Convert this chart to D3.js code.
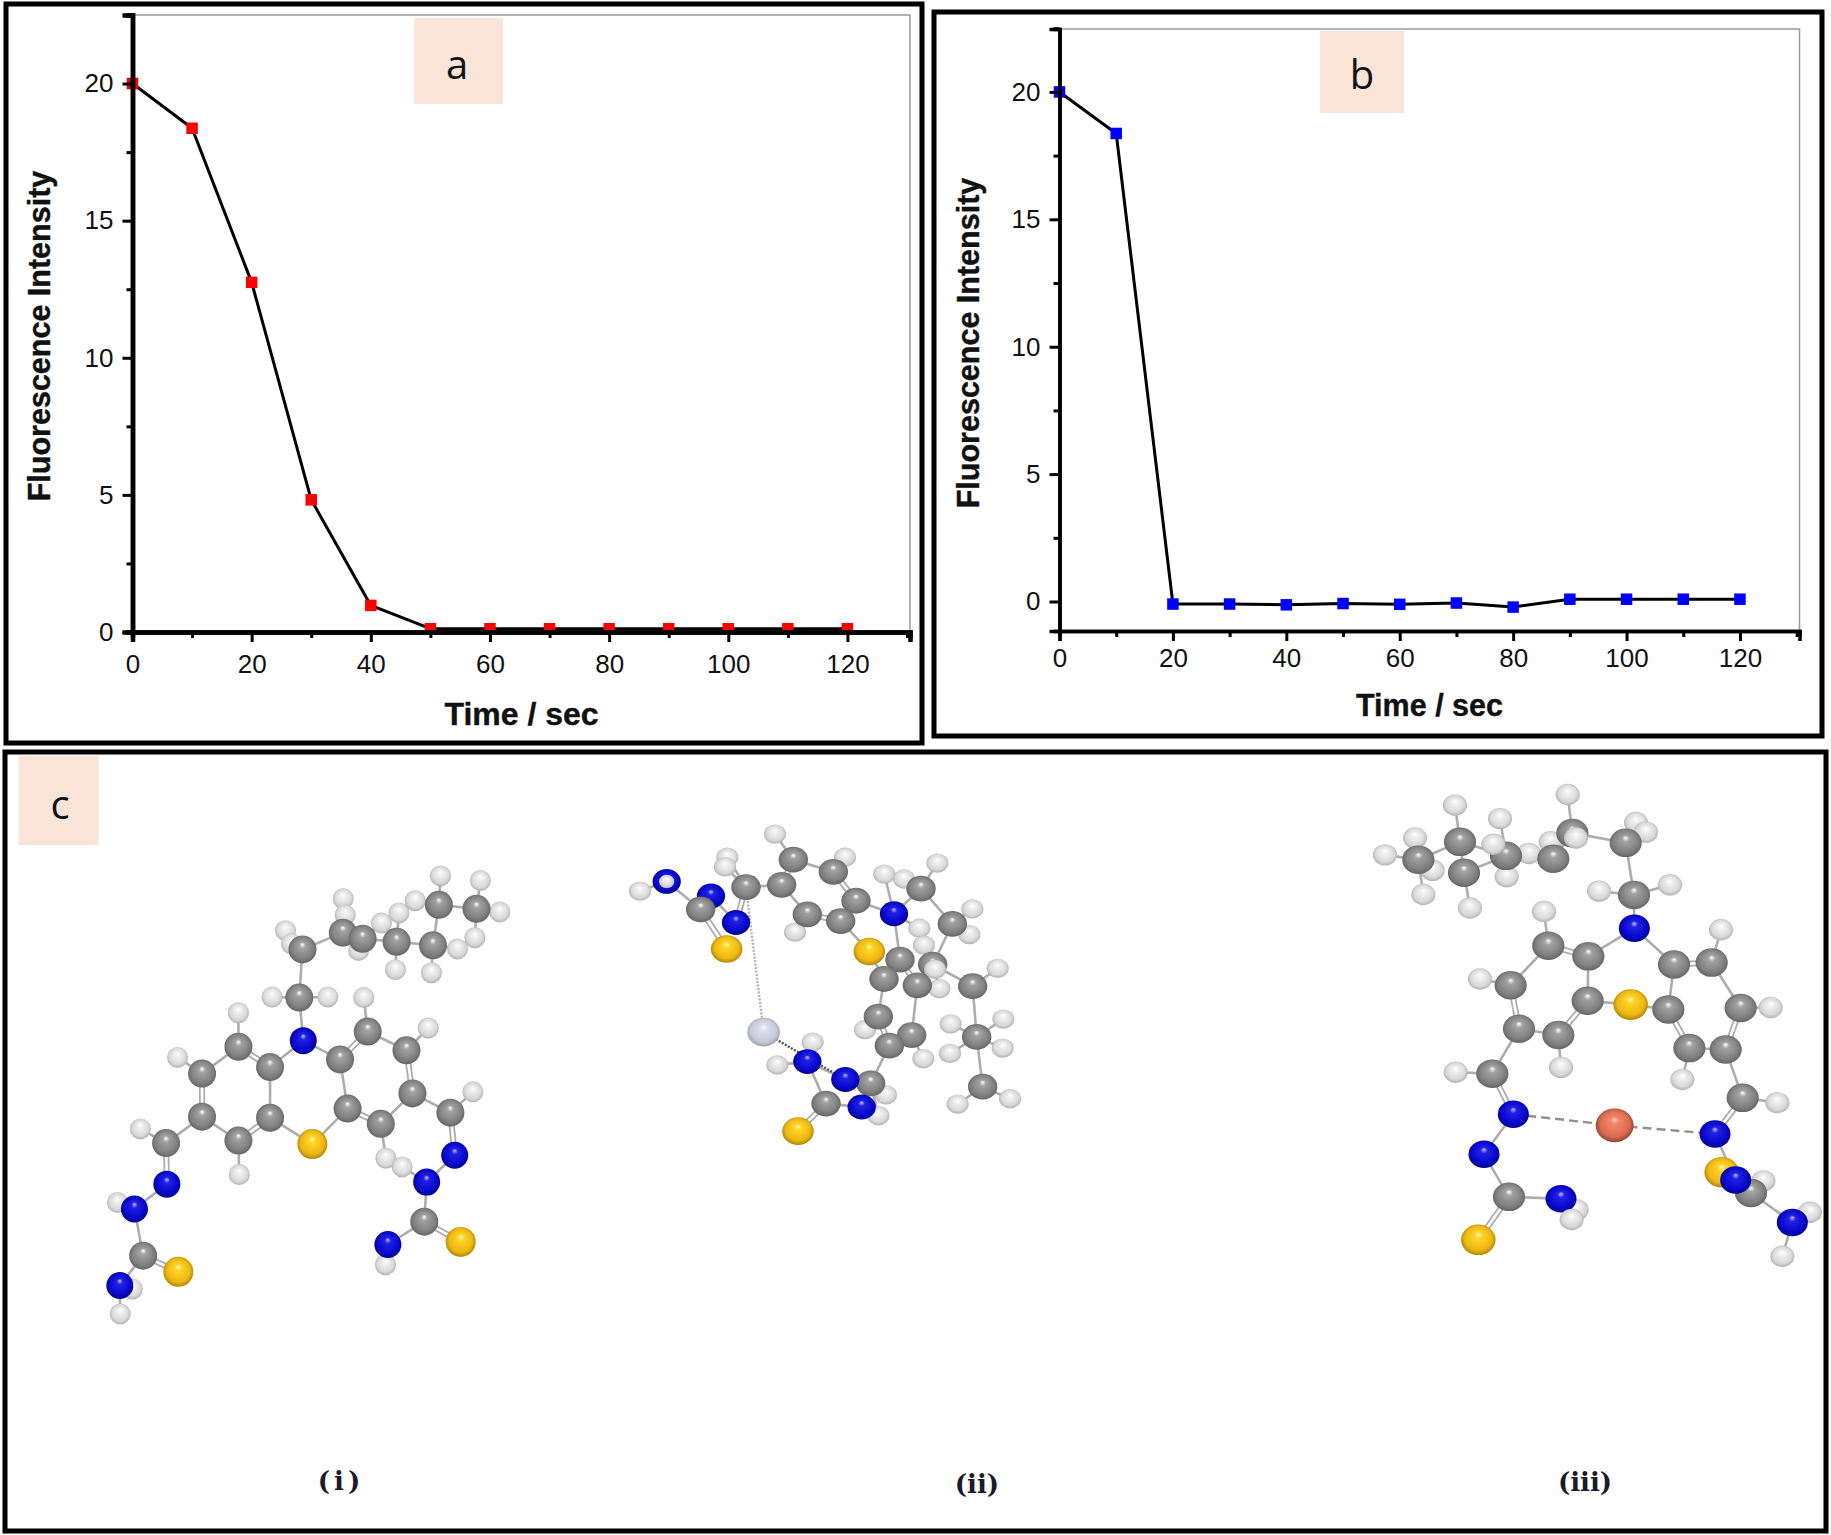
<!DOCTYPE html>
<html><head><meta charset="utf-8"><title>Fluorescence quenching</title>
<script src="https://cdn.jsdelivr.net/npm/d3@7/dist/d3.min.js"></script>
<style>html,body{margin:0;padding:0;background:#fff}svg{display:block}</style></head>
<body><svg id="fig" width="1831" height="1535"></svg>
<script>
// ---- chart data ----
const timeValues = [0,10,20,30,40,50,60,70,80,90,100,110,120];
const intensityA = [20,18.37,12.75,4.82,0.97,0.12,0.12,0.12,0.12,0.12,0.12,0.12,0.12];
const intensityB = [20,18.37,-0.1,-0.1,-0.13,-0.08,-0.11,-0.06,-0.22,0.09,0.09,0.09,0.09];
const xTicks = [0,20,40,60,80,100,120];
const xMinorTicks = [10,30,50,70,90,110,130];
const yTicks = [0,5,10,15,20];
const yMinorTicks = [2.5,7.5,12.5,17.5,22.5];
const xTitle = "Time / sec";
const yTitle = "Fluorescence Intensity";

// ---- molecule models (model units; id prefix gives the element) ----
const atomsI = [
["h1",722,376],["h2",737,402],["h3",868,313],["h4",873,345],["h5",965,361],["h6",907,415],["h7",1009,341],["h8",1050,317],["h9",1000,453],["h10",1091,459],["h11",1157,412],["h12",1114,268],["h13",1215,277],["h14",1201,390],["h15",1264,339],
["c1",765,413],["c2",867,380],["c3",917,392],["c4",1003,398],["c5",1095,405],["c6",1110,325],["c7",1205,333],
["h16",688,507],["h17",829,507],["c8",757,508],["n1",767,593],
["h18",603,538],["h19",449,626],["h20",605,857],["h21",920,508],["h22",1083,568],["h23",1196,694],["h24",976,825],["h25",1017,842],
["c9",683,645],["c10",603,605],["c11",511,658],["c12",511,743],["c13",603,790],["c14",683,745],["s1",790,797],
["c15",860,630],["c16",930,575],["c17",1028,612],["c18",1043,697],["c19",963,757],["c20",879,727],
["c21",1139,735],["n2",1150,819],["n3",1079,872],["c22",1073,950],["s2",1165,990],["h26",975,1035],["n4",981,995],
["h27",355,767],["c23",420,795],["n5",422,876],["h28",297,912],["n6",340,925],["c24",362,1017],["s3",451,1049],["h29",335,1083],["h30",304,1132],["n7",303,1076]
];
const bondsI = "c1-c2 c2-c3 c3-c4 c4-c5 c5-c6 c6-c7 c1-c8 c8-n1 n1-c9 c9=c10 c10-c11 c11=c12 c12-c13 c13=c14 c14-c9 c14-s1 s1-c20 n1-c15 c15=c16 c16-c17 c17=c18 c18-c19 c19=c20 c20-c15 c18-c21 c21=n2 n2-n3 n3-c22 c22=s2 c22-n4 c12-c23 c23=n5 n5-n6 n6-c24 c24=s3 c24-n7 c1-h1 c1-h2 c2-h3 c2-h4 c3-h5 c3-h6 c4-h7 c4-h9 c5-h10 c5-h11 c6-h8 c6-h12 c7-h13 c7-h14 c7-h15 c8-h16 c8-h17 c10-h18 c11-h19 c13-h20 c16-h21 c17-h22 c21-h23 c19-h24 n3-h25 n4-h26 c23-h27 n6-h28 n7-h29 n7-h30";
const linksI = [];

const atomsII = [
["h1",120,230],["n1",200,210],["h2",200,210],["h3",382,160],["h4",375,180],["n2",333,240],["c1",302,268],["s1",380,350],["n3",408,295],["c2",438,222],
["h5",525,112],["c3",545,217],["c4",580,165],["h6",735,160],["c5",700,190],["c6",768,250],["h7",585,315],["c8",622,278],["c7",722,292],
["h14",853,195],["h15",912,205],["h16",1012,172],["c17",963,225],["h17",1117,267],["h18",1108,320],["c18",1057,298],["h22",958,307],["n4",882,277],
["h19",972,342],["h21",1018,432],["h23",1193,390],["c20",1118,427],["h24",1052,505],["h25",1050,566],["h26",1210,495],["h27",1208,555],["c21",1130,532],["h28",1073,671],["h29",1230,660],["c22",1148,635],
["c19",998,382],["h20",1005,392],["c9",900,372],["c11",952,425],["s2",808,355],["c10",852,412],["h8",795,517],["c12",835,490],["h9",970,577],["c14",935,528],["c13",868,550],
["z1",491,522],["h10",638,543],["h11",532,590],["n6",622,583],["h12",858,652],["h13",835,695],["c15",812,628],["n5",736,620],["c16",678,670],["n7",785,677],["s3",594,727]
];
const bondsII = "h1-n1 n1-c1 c1-n2 c1=s1 n2-n3 n3=c2 c2-h4 c2-h3 c2-c3 c3=c4 c4-h5 c4-c5 c5-h6 c5=c6 c6-c7 c7=c8 c8-c3 c8-h7 c6-n4 c7-s2 n4-c9 s2-c10 c9-c10 c9=c11 c10-c12 c12-h8 c12=c13 c13-c14 c14-c11 c14-h9 c13-c15 c15=n5 n5-n6 n6-h10 n6-h11 n6-c16 c16=s3 c16-n7 n7-c15 c15-h12 c15-h13 n4-c17 n4-h14 c17-h15 c17-h16 c17-c18 c18-h17 c18-h18 c18-c19 c19-h19 c19-h20 c19-h21 n4-h22 c19-c20 c20-h23 c20-c21 c21-h24 c21-h25 c21-h26 c21-h27 c21-c22 c22-h28 c22-h29";
const linksII = [["c2","z1","#b4b4b4"],["z1","n5","#555555"]];

const atomsIII = [
["h1",135,155],["h2",225,120],["h3",250,237],["h4",278,187],["c1",235,165],["h5",345,52],["c2",360,128],["h6",390,265],["c3",372,192],["h7",480,80],["h8",500,200],["h9",567,152],["c4",498,157],["h10",460,133],
["h11",632,128],["c5",640,163],["h12",683,30],["c6",697,110],["h13",708,120],["h14",888,88],["h15",918,108],["c7",857,130],["h16",777,230],["h17",990,217],["c8",882,238],["n1",883,307],
["h18",612,272],["c10",625,343],["c9",745,365],["h19",420,412],["c11",512,425],["c12",537,515],["h20",663,595],["c13",655,528],["c14",743,457],["s1",872,465],["c15",985,475],["c16",1002,382],["h21",1143,310],["c17",1115,378],["h22",1292,471],["c18",1202,472],["h23",1027,620],["c19",1048,555],["c20",1157,558],
["h24",1312,668],["c21",1208,658],["n2",1125,733],["s2",1145,812],["h25",1270,830],["c22",1233,855],["n3",1187,828],["h26",1410,895],["h27",1327,986],["n4",1357,916],
["h28",347,605],["c23",457,608],["n5",520,692],["n6",432,775],["c24",507,863],["s3",415,952],["h29",710,890],["n7",663,867],["h30",695,910],["k1",824,715]
];
const bondsIII = "c1-h1 c1-h2 c1-h3 c1-h4 c1-c2 c2-h5 c2-c3 c3-h6 c3-c4 c2-c4 c4-h7 c4-h8 c4-h9 c4-h10 c4-c5 c5-h11 c5-c6 c6-h12 c6-h13 c6-c7 c7-h14 c7-h15 c7-c8 c8-h16 c8-h17 c8-n1 n1-c9 n1-c16 c9=c10 c10-h18 c10-c11 c11-h19 c11=c12 c12-c13 c13-h20 c13=c14 c14-c9 c14-s1 s1-c15 c15-c16 c16=c17 c17-h21 c17-c18 c18-h22 c18=c20 c20-c19 c19-h23 c19=c15 c20-c21 c21-h24 c21=n2 n2-n3 n3-c22 c22=s2 c22-n4 n4-h26 n4-h27 c12-c23 c23-h28 c23=n5 n5-n6 n6-c24 c24=s3 c24-n7 n7-h29 n7-h30";
const linksIII = [["n5","k1","#9a8a8a"],["k1","n2","#9a8a8a"]];

// ---- layout ----
const svg = d3.select("#fig");
const defs = svg.append("defs");
const shades = {
  c:["#ffffff","#a2a2a2","#808080","#5c5c5c"],
  h:["#ffffff","#f2f2f2","#d8d8d8","#a4a4a4"],
  n:["#c4c4ff","#2020e6","#0808cc","#000078"],
  s:["#fffac0","#ffd426","#edb714","#9a7600"],
  z:["#f8f8fc","#dcdeea","#c8cada","#92949f"],
  k:["#ffc8b0","#f2866a","#d86a50","#7a3a2a"]
};
Object.entries(shades).forEach(([k,s])=>{
  const g=defs.append("radialGradient").attr("id","atom-"+k).attr("cx",.5).attr("cy",.5).attr("r",.56).attr("fx",.5).attr("fy",.32);
  [[0,s[0]],[.2,s[1]],[.7,s[2]],[1,s[3]]].forEach(([o,c])=>g.append("stop").attr("offset",o).attr("stop-color",c));
});

function box(x0,y0,x1,y1,w){
  svg.append("rect").attr("x",x0).attr("y",y0).attr("width",x1-x0).attr("height",y1-y0)
     .attr("fill","none").attr("stroke","#000").attr("stroke-width",w);
}
function tag(x0,y0,x1,y1,text,tx,ty){
  svg.append("rect").attr("x",x0).attr("y",y0).attr("width",x1-x0).attr("height",y1-y0).attr("fill","#f9e4d7");
  svg.append("text").attr("x",tx).attr("y",ty).attr("text-anchor","middle").attr("font-family","'Open Sans'")
     .attr("font-size",40).attr("fill","#111").text(text);
}

function panel(p){
  const x=d3.scaleLinear().domain([0,130.5]).range([p.left,p.right]);
  const y=d3.scaleLinear().domain(p.yDomain).range([p.bottom,p.top]);
  const bottomY=p.bottom, g=svg.append("g");
  g.append("path").attr("d",d3.line()([[p.left,p.top],[p.right,p.top],[p.right,p.bottom]]))
    .attr("fill","none").attr("stroke","#9a9a9a").attr("stroke-width",1.5);
  const series=timeValues.map((t,i)=>[t,p.values[i]]);
  g.append("path").datum(series).attr("fill","none").attr("stroke","#000").attr("stroke-width",3)
    .attr("stroke-linejoin","round").attr("d",d3.line().x(d=>x(d[0])).y(d=>y(d[1])));
  g.selectAll("rect.pt").data(series).join("rect").attr("class","pt")
    .attr("x",d=>x(d[0])-5.75).attr("y",d=>y(d[1])-5.75).attr("width",11.5).attr("height",11.5).attr("fill",p.color);
  const style=a=>{
    a.selectAll("text").attr("font-family","'Liberation Sans'").attr("font-size",26).attr("fill","#111");
    a.selectAll("line").attr("stroke","#000").attr("stroke-width",3);
    a.select(".domain").attr("stroke","#000").attr("stroke-width",p.axisW);
  };
  g.append("g").attr("transform",`translate(0,${bottomY})`)
    .call(d3.axisBottom(x).tickValues(xMinorTicks).tickSize(6).tickFormat("")).call(style);
  g.append("g").attr("transform",`translate(0,${bottomY})`)
    .call(d3.axisBottom(x).tickValues(xTicks).tickSize(10).tickPadding(p.xPad).tickFormat(d3.format("d"))).call(style);
  g.append("g").attr("transform",`translate(${p.left},0)`)
    .call(d3.axisLeft(y).tickValues(yMinorTicks).tickSize(6).tickFormat("")).call(style);
  g.append("g").attr("transform",`translate(${p.left},0)`)
    .call(d3.axisLeft(y).tickValues(yTicks).tickSize(10).tickPadding(9).tickFormat(d3.format("d"))).call(style);
  const title=(sel,t,size)=>sel.attr("text-anchor","middle").attr("font-family","'Liberation Sans'").attr("font-weight","bold")
    .attr("font-size",size).attr("fill","#111").attr("stroke","#111").attr("stroke-width",.4).text(t);
  g.append("text").attr("x",p.xTitleX).attr("y",p.xTitleY).call(title,xTitle,p.xSize);
  g.append("text").attr("transform",`translate(${p.yTitleX},${p.yTitleY}) rotate(-90)`).call(title,yTitle,p.ySize);
}

function molecule(atoms,bonds,links,m){
  const sx=d3.scaleLinear().domain([0,1]).range([m.ox,m.ox+m.sx]);
  const sy=d3.scaleLinear().domain([0,1]).range([m.oy,m.oy+m.sy]);
  const byId=new Map(atoms.map(a=>[a[0],a]));
  const g=svg.append("g");
  const radii={c:14,h:10.5,n:13.5,s:15,z:15.5,k:16.5};
  bonds.split(" ").forEach(b=>{
    const dbl=b.includes("=");
    const [a1,a2]=b.split(/[-=]/).map(id=>byId.get(id));
    const X1=sx(a1[1]),Y1=sy(a1[2]),X2=sx(a2[1]),Y2=sy(a2[2]);
    const len=Math.hypot(X2-X1,Y2-Y1)||1,nx=-(Y2-Y1)/len,ny=(X2-X1)/len;
    (dbl?[-2.2,2.2]:[0]).forEach(o=>{
      g.append("line").attr("x1",X1+nx*o).attr("y1",Y1+ny*o).attr("x2",X2+nx*o).attr("y2",Y2+ny*o)
       .attr("stroke","#adadad").attr("stroke-width",dbl?1.8:2.6);
    });
  });
  links.forEach(l=>{
    const a1=byId.get(l[0]),a2=byId.get(l[1]);
    g.append("line").attr("x1",sx(a1[1])).attr("y1",sy(a1[2])).attr("x2",sx(a2[1])).attr("y2",sy(a2[2]))
     .attr("stroke",l[2]).attr("stroke-width",2.4).attr("stroke-dasharray",m.dash);
  });
  g.selectAll("ellipse").data(atoms).join("ellipse")
    .attr("cx",d=>sx(d[1])).attr("cy",d=>sy(d[2]))
    .attr("rx",d=>radii[d[0][0]]*m.rx*(d[0]==="h2"&&m.inner?.7:1)).attr("ry",d=>radii[d[0][0]]*m.ry*(d[0]==="h2"&&m.inner?.7:1))
    .attr("fill",d=>`url(#atom-${d[0][0]})`);
}

// ---- frames and tags ----
box(6,4,922,743,5);
box(934,12,1822,736,5);
box(5,752,1826,1531,5);

panel({left:132.5,right:910,top:15,bottom:632,yDomain:[0,22.5],values:intensityA,color:"#ff0000",axisW:4.5,xPad:13,
  xTitleX:521.5,xTitleY:725,yTitleX:50,yTitleY:336,xSize:32,ySize:30.5});
panel({left:1059.5,right:1799.5,top:29,bottom:631,yDomain:[-1.158,22.47],values:intensityB,color:"#0000ff",axisW:3.5,xPad:8,
  xTitleX:1429.5,xTitleY:716,yTitleX:979,yTitleY:343,xSize:30.5,ySize:30.5});

tag(414.5,18,503,104,"a",457,79);
tag(1320,31,1404,113,"b",1362,89);
tag(18.5,756,98.5,845,"c",60,819);

molecule(atomsI,bondsI,linksI,{ox:0,oy:740,sx:620/1568,sy:795/1568,rx:1.0,ry:1.0,dash:"4 3"});
molecule(atomsII,bondsII,linksII,{ox:600,oy:780,sx:1/3,sy:.483,rx:1.05,ry:.92,dash:"2 1.5",inner:true});
molecule(atomsIII,bondsIII,linksIII,{ox:1340,oy:780,sx:1/3,sy:.483,rx:1.15,ry:1.02,dash:"9 5"});

[["(i)",341,1490],["(ii)",977,1493],["(iii)",1585,1491]].forEach(([t,x,y])=>{
  svg.append("text").attr("x",x).attr("y",y).attr("text-anchor","middle").attr("font-family","'DejaVu Serif'")
     .attr("font-weight","bold").attr("font-size",26).attr("letter-spacing",t==="(i)"?4:0).attr("fill","#1a1a2a").text(t);
});
</script></body></html>
